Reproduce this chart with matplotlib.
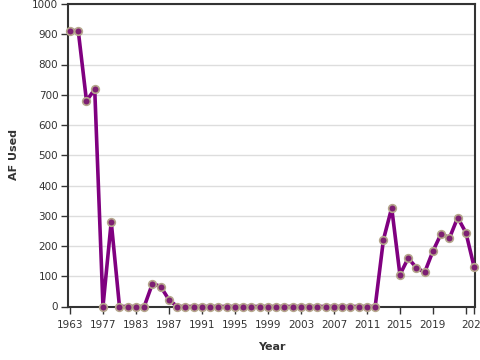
import matplotlib
matplotlib.use("Agg")
import matplotlib.pyplot as plt

years = ["1963", "1964", "1975", "1976", "1977", "1978", "1980", "1982",
         "1983", "1984", "1985", "1986", "1987"] + [str(y) for y in range(1988, 2025)]
af_used = [912, 912, 680, 718, 0, 280, 0, 0,
           0, 0, 76, 66, 22,
           0, 0, 0, 0, 0, 0, 0, 0, 0, 0, 0, 0, 0, 0, 0, 0, 0, 0, 0, 0, 0, 0, 0, 0, 0,
           221, 326, 105, 160, 128, 113, 183, 241, 226, 294, 244, 130]

y_ticks = list(range(0, 1001, 100))

fig = plt.figure(figsize=(4.8, 3.6), dpi=100)
ax = fig.add_axes([68 / 480, 1 - 306.5 / 360, (475 - 68) / 480, (306.5 - 4) / 360])

x = list(range(len(years)))
ax.plot(x, af_used, color="#800080", linewidth=2.6, zorder=3, clip_on=False,
        marker="o", markersize=5.5, markerfacecolor="#7d1f73",
        markeredgecolor="#b5a68c", markeredgewidth=1.2)

ax.set_ylim(0, 1000)
ax.set_xlim(-0.24, 49.1)
ax.set_yticks(y_ticks)
ax.grid(axis="y", color="#dddddd", linewidth=1)
ax.set_axisbelow(True)

tick_idx = list(range(0, len(years), 4)) + [len(years) - 1]
ax.set_xticks(tick_idx)
ax.set_xticklabels([years[i] if i != 48 else "" for i in tick_idx])

for s in ax.spines.values():
    s.set_color("#333333")
    s.set_linewidth(1.5)

ax.tick_params(axis="both", labelsize=7.5, colors="#333333", length=5, width=1)
ax.tick_params(axis="x", pad=5)
ax.tick_params(axis="y", pad=2)
for lab in ax.get_xticklabels() + ax.get_yticklabels():
    lab.set_color("#333333")

# axis titles placed where the reference has them
fig.text(272 / 480, 1 - 347 / 360, "Year", fontsize=8, fontweight="bold",
         color="#333333", ha="center", va="center")
fig.text(14 / 480, 1 - 155 / 360, "AF Used", fontsize=8, fontweight="bold",
         color="#333333", ha="center", va="center", rotation=90)

fig.savefig("out.png", dpi=100)
